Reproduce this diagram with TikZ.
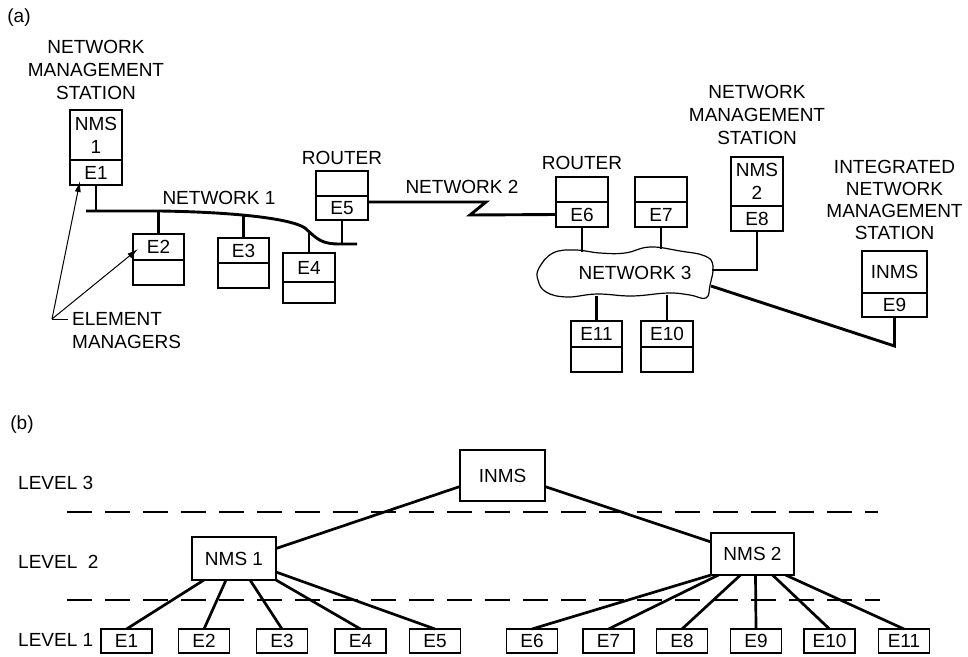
\documentclass[tikz,border=0pt]{standalone}
\usepackage{fontspec}
\setmainfont{Liberation Sans}
\usetikzlibrary{positioning,arrows.meta}
\tikzset{
  cell/.style={draw,line width=1.4pt,inner sep=0pt,outer sep=0pt,
    minimum width=52pt,minimum height=25pt,align=center},
  lbl/.style={align=center,inner sep=0pt},
  net/.style={line width=2.9pt},
  wire/.style={line width=2.7pt},
  pointer/.style={line width=1pt,-{Latex[length=11pt,width=6pt]}},
  levelline/.style={dash pattern=on 25pt off 13pt,line width=1.7pt},
}

\begin{document}
\begin{tikzpicture}[x=1pt,y=-1pt,font=\fontsize{19}{23}\selectfont]
\useasboundingbox (0,0) rectangle (968,656);

% (a) physical view
\node[lbl] (tagA) at (19,18) {(a)};

\node[cell,minimum height=50pt] (nms1) at (96,135) {NMS\\1};
\node[cell,below=0pt of nms1] (e1) {E1};
\node[lbl,above=10pt of nms1] (nms1lbl) {NETWORK\\MANAGEMENT\\STATION};

\node[cell,minimum width=51pt,minimum height=26pt] (e2) at (158.5,247) {E2};
\node[cell,minimum width=51pt,below=0pt of e2] (e2b) {};
\node[cell,minimum width=51pt] (e3) at (243.5,250.5) {E3};
\node[cell,minimum width=51pt,below=0pt of e3] (e3b) {};
\node[cell,minimum height=29pt] (e4) at (309,267.5) {E4};
\node[cell,minimum height=21pt,below=0pt of e4] (e4b) {};

\node[cell] (r1) at (342,183.5) {};
\node[cell,minimum height=24pt,below=0pt of r1] (e5) {E5};
\node[lbl,above=6.5pt of r1] (r1lbl) {ROUTER};

\node[cell] (r2) at (582,189.5) {};
\node[cell,below=0pt of r2] (e6) {E6};
\node[lbl,above=7.5pt of r2] (r2lbl) {ROUTER};

\node[cell] (h7) at (661,189.5) {};
\node[cell,below=0pt of h7] (e7) {E7};

\node[cell,minimum height=49pt] (nms2) at (757,181.5) {NMS\\2};
\node[cell,below=0pt of nms2] (e8) {E8};
\node[lbl,above=12pt of nms2] (nms2lbl) {NETWORK\\MANAGEMENT\\STATION};

\node[cell,minimum width=65pt,minimum height=42pt] (inms) at (894.5,272) {INMS};
\node[cell,minimum width=65pt,minimum height=24pt,below=0pt of inms] (e9) {E9};
\node[lbl,above=11pt of inms,font=\fontsize{19}{22}\selectfont] (inmslbl) {INTEGRATED\\NETWORK\\MANAGEMENT\\STATION};

\node[cell,minimum width=51pt,minimum height=26pt] (e11) at (596.5,334) {E11};
\node[cell,minimum width=51pt,below=0pt of e11] (e11b) {};
\node[cell,minimum height=26pt] (e10) at (667,334) {E10};
\node[cell,below=0pt of e10] (e10b) {};

% network 1 bus
\draw[net] (86,211) -- (160,211) .. controls (230,212) and (290,218) .. (305,228)
  .. controls (318,240) and (322,244) .. (340,244) -- (357,244);
\node[lbl] (net1) at (219,198) {NETWORK 1};
\draw[net] (e1.south) -- (e1.south |- 0,211);
\draw[net] (e2.north) -- (e2.north |- 0,211);
\draw[net] (e3.north) -- (e3.north |- 0,216);
\draw[net] (e4.north) -- (e4.north |- 0,232);
\draw[net] (e5.south) -- (e5.south |- 0,244);

% network 2
\draw[net] ([yshift=6pt]e5.east) -- (486,202) -- (470,215) -- (e6.west);
\node[lbl] (net2) at (462,187) {NETWORK 2};

% network 3 cloud
\draw[line width=1.2pt] plot[smooth cycle,tension=0.7] coordinates {(539,268) (553,253)
  (575,250) (600,253) (625,253) (650,247) (680,251) (705,256) (713,266) (710,285)
  (706,298) (690,295) (668,293) (632,296) (597,294) (567,297) (546,292) (538,280)};
\node[lbl] (net3) at (635,273) {NETWORK 3};
\draw[net] (e6.south) -- (e6.south |- 0,252);
\draw[net] (e7.south) -- (e7.south |- 0,249);
\coordinate (c8) at (712,270);
\draw[net] (e8.south) |- (c8);
\coordinate (c9) at (711,286);
\coordinate (k9) at (894.5,346);
\draw[net] (c9) -- (k9) -- (e9.south);
\draw[net] (e11.north) -- (e11.north |- 0,296);
\draw[net] (e10.north) -- (e10.north |- 0,295);

% element managers
\node[lbl,anchor=west,align=left] (em) at (72,330.5) {ELEMENT\\MANAGERS};
\coordinate (emp) at (52,319);
\coordinate (tip1) at (80,181);
\coordinate (tip2) at (138,249);
\draw[line width=1pt] (emp) -- (68,319);
\draw[pointer] (emp) -- (tip1);
\draw[pointer] (emp) -- (tip2);

% (b) hierarchy
\node[lbl] (tagB) at (22,425) {(b)};
\node[lbl,anchor=west] (lv3) at (18,483) {LEVEL 3};
\node[lbl,anchor=west] (lv2) at (18,562) {LEVEL\ \ 2};
\node[lbl,anchor=west] (lv1) at (18,640) {LEVEL 1};
\draw[levelline] (67,512) -- (878,512);
\draw[levelline] (67,600) -- (880,600);

\node[cell,minimum width=85pt,minimum height=51pt] (top) at (502.5,475.5) {INMS};
\node[cell,minimum width=84pt,minimum height=43pt] (n1) at (234,558.5) {NMS 1};
\node[cell,minimum width=83pt,minimum height=42pt] (n2) at (752.5,554) {NMS 2};
\foreach \n/\x in {1/126.5,2/204,3/282,4/360.5,5/435,6/532,7/608.5,8/682,9/756,10/829.5,11/904}
  \node[cell,minimum width=51pt,minimum height=24pt] (l\n) at (\x,641) {E\n};

\draw[wire] ([yshift=-11pt]top.west) -- ([yshift=10pt]n1.east);
\draw[wire] ([yshift=-11pt]top.east) -- ([yshift=12pt]n2.west);
\foreach \n/\dx in {1/-30,2/-8,3/16,4/42}
  \draw[wire] ([xshift=\dx pt]n1.south) -- (l\n.north);
\draw[wire] ([yshift=8pt]n1.south east) -- (l5.north);
\foreach \n/\dx in {6/-41.5,7/-34,8/-12,9/3,10/20,11/33}
  \draw[wire] ([xshift=\dx pt]n2.south) -- (l\n.north);
\end{tikzpicture}
\end{document}
